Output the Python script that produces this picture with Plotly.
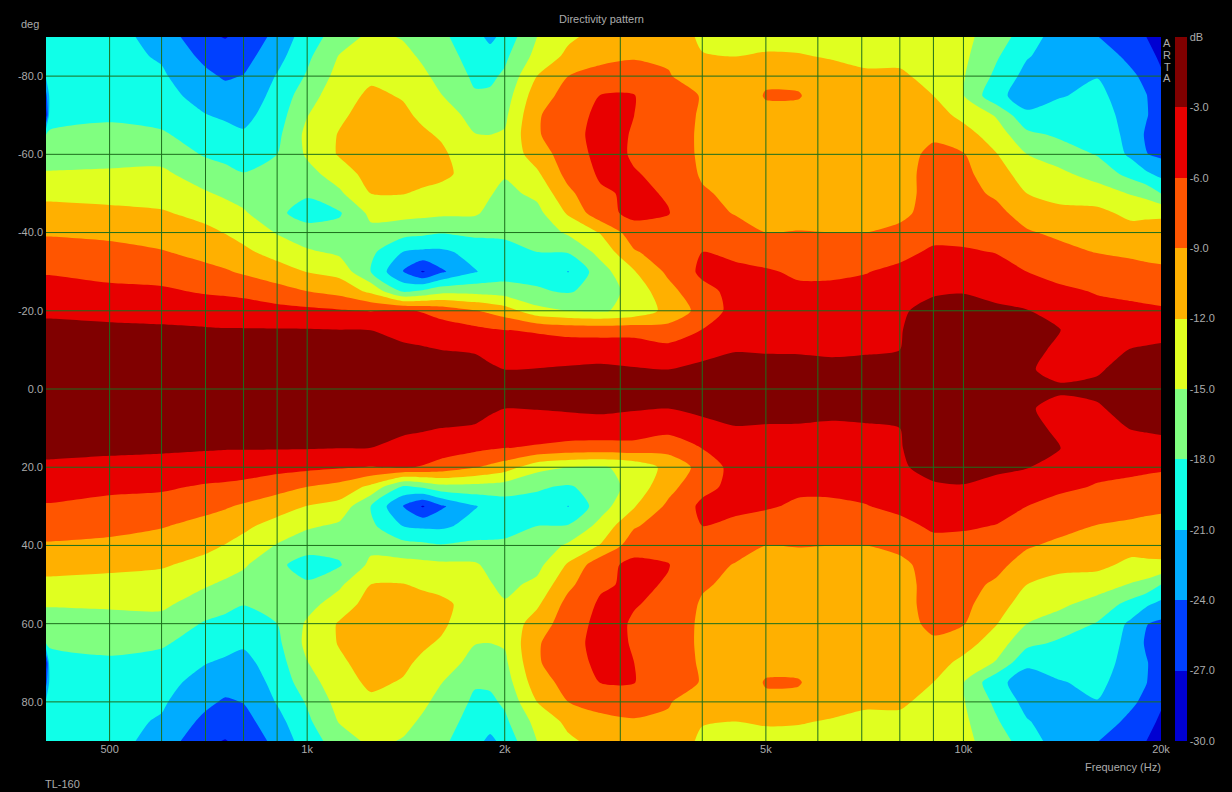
import math
import plotly.graph_objects as go

freqs = [400, 405, 500, 600, 700, 750, 800, 900, 1000, 1120, 1250, 1400, 1500, 1600, 1800, 1900, 2000, 2240, 2500, 2800,
         3150, 3550, 4000, 4500, 5000, 5600, 6300, 7100, 8000, 9000, 10000, 11200, 12500, 14000, 16000,
         18000, 19000, 20000]
angles_half = [90, 85, 80, 75, 70, 65, 60, 55, 50, 45, 40, 35, 30, 25, 20, 15, 10, 5, 0]

# one list per frequency: level in dB from 90 deg off axis to on axis
level_by_freq = [
    [-19.5, -20, -20.5, -25, -28, -18, -16, -14.8, -12.7, -11, -9.3, -7.8, -6.2, -5, -3.4, -2.4, -1.5, -0.5, 0],
    [-19.5, -20, -20, -20.5, -19.5, -17.5, -16, -14.8, -12.7, -11, -9.3, -7.8, -6.2, -5, -3.4, -2.4, -1.5, -0.5, 0],
    [-20, -20, -20, -19.5, -18.4, -17.3, -16.3, -14.5, -13, -11.3, -9.6, -8.2, -6.8, -5.4, -3.7, -2.5, -1.6, -0.6, 0],
    [-22, -21.3, -20.6, -20, -19.1, -17.6, -16.1, -14.4, -13.3, -11.7, -10.3, -8.8, -7.1, -5.6, -3.9, -2.6, -1.7, -0.7, 0],
    [-26.6, -24.8, -23.3, -22.1, -20.9, -19.5, -18.3, -16.5, -14.7, -12.9, -11.3, -9.9, -8.2, -6.3, -4.4, -2.7, -1.7, -0.7, 0],
    [-27.1, -25.9, -24.4, -22.7, -21.4, -20.1, -18.8, -17.2, -15.5, -13.7, -12.1, -10.6, -8.7, -6.5, -4.5, -2.8, -1.8, -0.8, 0],
    [-26.4, -25.1, -23.9, -23, -21.9, -20.6, -19.3, -17.9, -16.3, -14.6, -13, -11.4, -9.4, -6.8, -4.6, -2.8, -1.8, -0.8, 0],
    [-23, -22, -20.8, -20, -19.4, -18.7, -18, -17.3, -16.9, -17.5, -15.2, -13.1, -10.7, -7.9, -5, -2.8, -1.8, -0.8, 0],
    [-19.5, -18.6, -17.7, -16.3, -15.1, -14.2, -14.6, -16, -17.7, -19, -17, -14.5, -12.1, -9, -5.3, -2.8, -1.8, -0.8, 0],
    [-16.5, -14.8, -13.9, -13.1, -12.5, -11.8, -11.7, -13.6, -15.5, -18.3, -17, -15.6, -13, -10, -5.7, -2.9, -2, -1, 0],
    [-14.3, -13.5, -12.5, -11.5, -10.8, -10.3, -10, -10.8, -12, -14.3, -15.8, -17.3, -18, -12.7, -6.1, -3, -2.2, -1.2, 0],
    [-15.2, -14.2, -13.2, -12.2, -11.5, -11, -10.5, -11, -11.9, -14, -16.9, -21.1, -24.1, -18.5, -5.7, -3.8, -2.5, -1.3, 0],
    [-16.2, -15.4, -14.5, -13.5, -12.5, -11.6, -11, -11.1, -12.4, -14.2, -17.3, -21.6, -27.3, -17.5, -6.2, -4.2, -2.7, -1.4, 0],
    [-17.4, -16.6, -15.8, -14.9, -13.5, -12.3, -11.5, -11.3, -13, -14.4, -17.8, -21.6, -24.5, -16, -7, -4.7, -3, -1.5, 0],
    [-19.8, -19.2, -18.5, -17.7, -16, -14.9, -13.8, -13.2, -13.7, -14.6, -17.3, -20, -21.2, -16, -8.8, -5.2, -3.3, -1.8, -0.5],
    [-21.8, -19.6, -18.6, -17.5, -16, -15, -14.2, -14, -14.8, -15.7, -17.4, -19.5, -20.2, -16.2, -9.6, -5.6, -4, -2.5, -1],
    [-19.9, -18.6, -17.5, -16.5, -15.6, -14.7, -14.1, -14.7, -15.8, -16.6, -17.5, -18.9, -19.5, -16.5, -10.5, -5.9, -4.5, -3, -1.5],
    [-15, -14, -12, -10.3, -9.3, -9.3, -10.6, -12.5, -14.3, -15.9, -17, -18, -18.9, -17.7, -14, -6.3, -4.4, -2.9, -1.5],
    [-12.5, -11.3, -9, -8, -7.3, -7.1, -7.4, -8, -9.7, -11.6, -14.5, -17.8, -21.1, -18.3, -15, -6.9, -4.3, -2.7, -1.5],
    [-11, -9.6, -8.2, -5.9, -5.3, -5, -5.2, -5.6, -6.4, -7, -11.8, -14, -16.3, -16.8, -15.3, -7.1, -4.2, -2.5, -1.5],
    [-10.5, -9.3, -7.5, -5.9, -6, -6.2, -6.2, -5.9, -5.5, -5.2, -7.3, -9.3, -12.2, -13.8, -14.2, -7, -4.4, -2.8, -1.5],
    [-9.9, -9.4, -8.8, -8.2, -7.7, -7.1, -6.6, -6.4, -6.2, -5.9, -6.8, -7.5, -8.4, -10, -11, -7.9, -5, -3, -1.5],
    [-12.6, -11.8, -10.5, -9.1, -9.3, -9.6, -9.7, -9.4, -8.6, -7.9, -7, -6, -5.4, -6.8, -8, -5.9, -3.7, -2.5, -1.5],
    [-13, -12, -11.2, -10.7, -10.6, -10.5, -10.4, -10.2, -9.8, -9.2, -7.8, -6.4, -5.6, -5.2, -4.8, -4.3, -3.1, -2.2, -1.4],
    [-12.9, -11.7, -9.5, -8.8, -9.7, -10.3, -10.4, -10.4, -10.3, -10, -9, -7.3, -5.7, -5.2, -4.7, -4, -3.2, -2.2, -1.4],
    [-12.9, -11.8, -9.7, -8.8, -9.8, -10.2, -10.4, -10.3, -10.2, -9.9, -8.9, -7.6, -6.4, -5.5, -4.6, -3.9, -3.2, -2.3, -1.4],
    [-13, -12.2, -11, -10.6, -10.6, -10.6, -10.6, -10.5, -10.3, -10, -9, -7.7, -6.4, -5.5, -4.7, -4, -3.3, -2.5, -1.5],
    [-13.5, -12.6, -11.6, -11, -10.7, -10.6, -10.6, -10.5, -10.3, -10, -9, -7.5, -6.1, -5.3, -4.6, -3.9, -3.2, -2.4, -1.5],
    [-13.5, -12.6, -11.6, -11, -10.6, -10.3, -10, -10, -9.9, -9.6, -8.4, -6.7, -5.4, -4.4, -3.2, -3.1, -3, -2.2, -1.4],
    [-14.4, -13.5, -12.8, -12, -10.7, -9.4, -8.4, -8, -8.1, -8, -6.8, -5.6, -4.4, -3.2, -2.5, -2, -1.6, -1.2, -1],
    [-14.2, -14.4, -14.8, -14.9, -12.8, -10.8, -8.8, -8.3, -8.1, -7.9, -7.1, -5.6, -4.4, -3.1, -2.3, -1.8, -1.4, -1.1, -0.9],
    [-16.5, -17.6, -18.6, -20.2, -15.2, -13.4, -11.8, -10.5, -9.4, -8.2, -7.1, -6.1, -4.7, -3.6, -2.6, -2, -1.5, -1.2, -1],
    [-19.5, -20.8, -22, -22.3, -20.5, -17.2, -15, -13.5, -12, -10.2, -8.7, -7.3, -6, -4.4, -2.9, -2.3, -2.2, -2.7, -1.5],
    [-22.5, -22.4, -22.2, -21.2, -19.7, -18.5, -16.3, -14.4, -13, -11.2, -9.6, -8.1, -7, -5.4, -3.8, -2.9, -3.5, -3.8, -2.6],
    [-23.9, -22.2, -21.1, -20.3, -19.6, -18.9, -18.2, -16.1, -13.7, -11.2, -10.1, -9.1, -7.6, -6.2, -5.2, -4.5, -3.9, -3.3, -2.4],
    [-26.2, -24.8, -23.4, -22.5, -22.2, -22, -21.6, -19, -15.2, -12.8, -10.8, -9.5, -8, -6.6, -5.4, -4.1, -2.9, -2, -1.5],
    [-27, -26, -24.8, -23.9, -23.8, -24.4, -23.9, -20.5, -16, -12.6, -10.8, -9.7, -8.3, -6.9, -5.5, -4, -2.7, -1.8, -1.4],
    [-29, -27.5, -26.6, -26, -25.5, -25, -24.6, -21.8, -18, -12.5, -10.8, -9.8, -8.5, -7.2, -5.6, -3.9, -2.5, -1.7, -1.3],
]

freq_ticks = [500, 1000, 2000, 5000, 10000, 20000]
freq_tick_text = ["500", "1k", "2k", "5k", "10k", "20k"]
freq_grid = [500, 600, 700, 800, 900, 1000, 2000, 3000, 4000, 5000, 6000, 7000, 8000, 9000, 10000]
deg_ticks = [-80, -60, -40, -20, 0, 20, 40, 60, 80]
deg_tick_text = ["-80.0", "-60.0", "-40.0", "-20.0", "0.0", "20.0", "40.0", "60.0", "80.0"]
db_ticks = [0, -3, -6, -9, -12, -15, -18, -21, -24, -27, -30]
db_tick_text = ["dB", "-3.0", "-6.0", "-9.0", "-12.0", "-15.0", "-18.0", "-21.0", "-24.0", "-27.0", "-30.0"]
band_colors = ["#0000d2", "#0040ff", "#00acff", "#10ffe8", "#80ff80", "#e0ff20", "#ffb000", "#ff5500", "#e80000", "#800000"]
brand_letters = ["A", "R", "T", "A"]

angles = [-a for a in angles_half] + [a for a in reversed(angles_half[:-1])]
rows = []
for a in angles:
    j = angles_half.index(abs(a))
    rows.append([col[j] for col in level_by_freq])

scale = []
n = len(band_colors)
for i, c in enumerate(band_colors):
    scale.append([i / n, c])
    scale.append([(i + 1) / n, c])

TXT = "#ababab"
FONT = "Liberation Sans, Arial, sans-serif"

fig = go.Figure()
fig.add_trace(go.Contour(
    x=freqs, y=angles, z=rows, zmin=-30, zmax=0,
    autocontour=False,
    contours=dict(start=-27, end=-3, size=3, coloring="fill", showlines=False),
    line=dict(width=0, smoothing=0.7),
    colorscale=scale,
    colorbar=dict(
        x=1.0126, xanchor="left", xpad=0, y=0.5, yanchor="middle", ypad=0, len=1, lenmode="fraction",
        thickness=12, thicknessmode="pixels", outlinewidth=0, borderwidth=0,
        tickmode="array", tickvals=db_ticks, ticktext=db_tick_text, ticks="",
        tickfont=dict(color=TXT, size=11, family=FONT),
    ),
    hoverinfo="skip",
))

grid_color = "#1c6e1c"
gx, gy = [], []
for f in freq_grid:
    gx += [f, f, None]
    gy += [-90, 90, None]
fig.add_trace(go.Scatter(x=gx, y=gy, mode="lines", line=dict(color=grid_color, width=1),
                         showlegend=False, hoverinfo="skip"))
hx, hy = [], []
for d in deg_ticks:
    hx += [freqs[0], freqs[-1], None]
    hy += [d, d, None]
fig.add_trace(go.Scatter(x=hx, y=hy, mode="lines", line=dict(color=grid_color, width=1),
                         showlegend=False, hoverinfo="skip"))

notes = [
    dict(text="Directivity pattern", xref="paper", yref="paper", x=0.4986, y=1.0256, showarrow=False,
         font=dict(size=11, color=TXT), xanchor="center", yanchor="middle"),
    dict(text="deg", xref="paper", yref="paper", x=-0.0045, y=1.0185, showarrow=False,
         font=dict(size=11, color=TXT), xanchor="right", yanchor="middle"),
    dict(text="Frequency (Hz)", xref="paper", yref="paper", x=1.002, y=-0.0369, showarrow=False,
         font=dict(size=11, color=TXT), xanchor="right", yanchor="middle"),
    dict(text="TL-160", xref="paper", yref="paper", x=-0.0027, y=-0.0611, showarrow=False,
         font=dict(size=11, color=TXT), xanchor="left", yanchor="middle"),
]
for i, ch in enumerate(brand_letters):
    notes.append(dict(text=ch, xref="paper", yref="paper", x=1.0054, y=0.991 - i * 0.0166, showarrow=False,
                      font=dict(size=11, color=TXT), xanchor="center", yanchor="middle"))

fig.update_layout(
    width=1232, height=792, autosize=False,
    margin=dict(l=46, r=71, t=37, b=51, pad=0),
    paper_bgcolor="black", plot_bgcolor="black",
    font=dict(family=FONT, color=TXT, size=11),
    showlegend=False,
    xaxis=dict(type="log", range=[math.log10(freqs[0]), math.log10(freqs[-1])],
               tickmode="array", tickvals=freq_ticks, ticktext=freq_tick_text,
               showgrid=False, zeroline=False, ticks="", showline=False,
               tickfont=dict(color=TXT, size=11, family=FONT)),
    yaxis=dict(range=[90, -90], tickmode="array", tickvals=deg_ticks, ticktext=deg_tick_text,
               showgrid=False, zeroline=False, ticks="", showline=False, ticklabelstandoff=2,
               tickfont=dict(color=TXT, size=11, family=FONT)),
    annotations=notes,
)

fig.write_html("out.html", config=dict(displayModeBar=False),
               post_script="document.body.style.margin='0';document.body.style.background='black';")
